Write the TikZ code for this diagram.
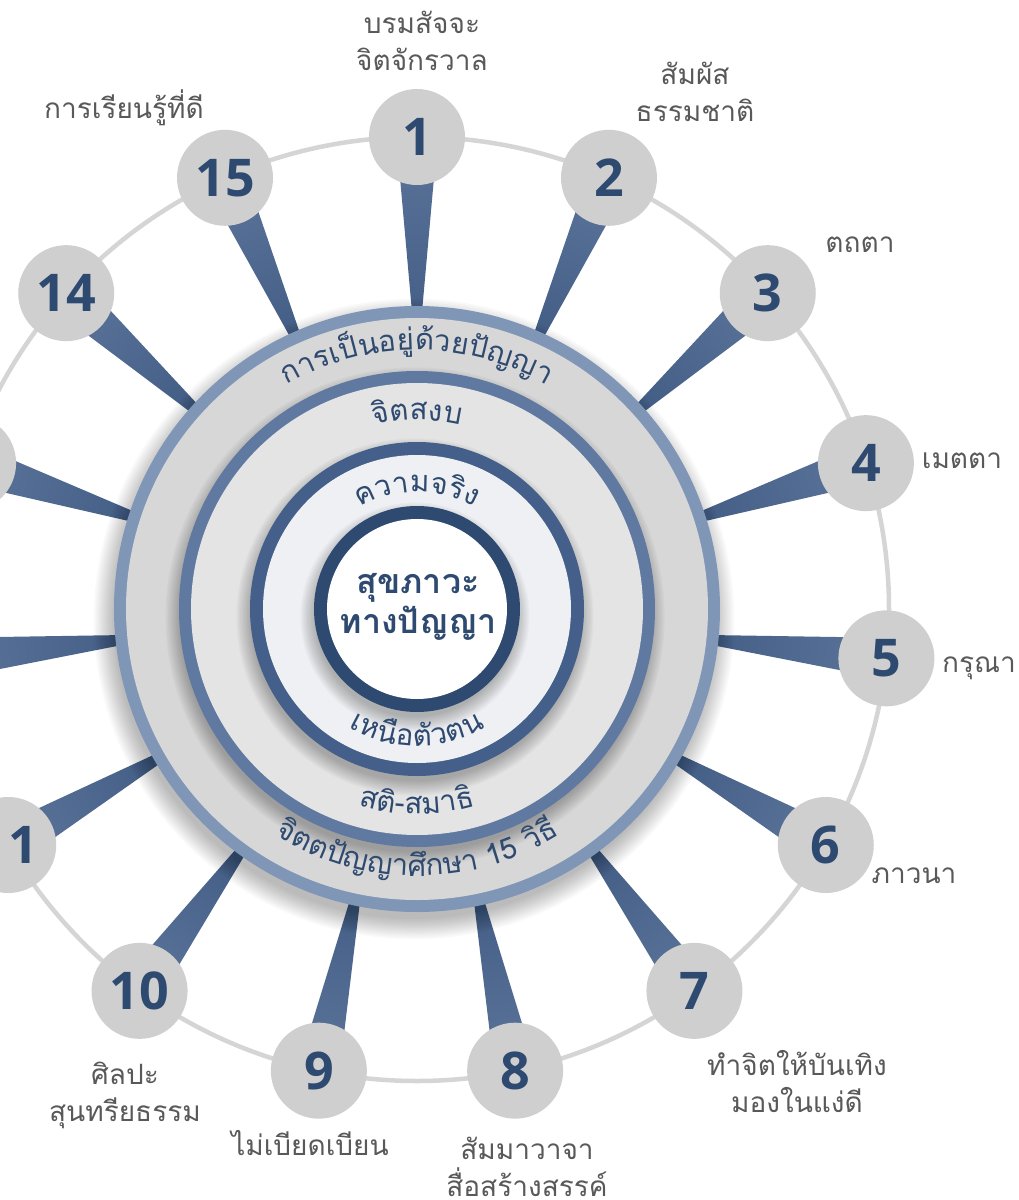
\documentclass[tikz,border=0pt]{standalone}
\usepackage{fontspec}
\setmainfont{Open Sans}
\newfontfamily\thaifont[Script=Thai]{Loma}
\newfontfamily\numfont{Open Sans}
\usetikzlibrary{calc}

\definecolor{ringA}{HTML}{7F96B6}
\definecolor{ringB}{HTML}{6079A0}
\definecolor{ringC}{HTML}{44608A}
\definecolor{ringD}{HTML}{2E4A70}
\definecolor{fillA}{HTML}{D7D7D7}
\definecolor{fillB}{HTML}{E4E4E4}
\definecolor{fillC}{HTML}{EEF0F3}
\definecolor{numgray}{HTML}{CFCFCF}
\definecolor{linkgray}{HTML}{D5D5D5}
\definecolor{navy}{HTML}{2E4A70}
\definecolor{labelgray}{HTML}{595959}
\definecolor{spokeL}{HTML}{5B7399}
\definecolor{spokeD}{HTML}{425D85}

\newdimen\cwid
\newsavebox\cbox
\newcommand\arcfont{\thaifont\fontsize{29.5}{30}\selectfont}

% measure clusters (run inside a node, where fonts are active)
\newcommand\measureclusters[2]{%
  \xdef\acctot{0}%
  \foreach \cl [count=\j] in {#1}{\sbox\cbox{\arcfont\cl}\cwid=\wd\cbox
    \expandafter\xdef\csname cw#2\j\endcsname{\the\cwid}%
    \pgfmathsetmacro\tmp{\acctot+\cwid}\xdef\acctot{\tmp}}}

% text along the top of a circle
\newcommand\arcTop[3]{%
  \node[inner sep=0pt,name=m#3] at (0,0) {\measureclusters{#2}{#3}};
  \xdef\acccum{0}%
  \foreach \cl [count=\j] in {#2}{%
    \edef\w{\csname cw#3\j\endcsname}%
    \pgfmathsetmacro\ang{90+(\acctot/2-\acccum-\w/2)/#1*57.2958}%
    \node[arctext,rotate=\ang-90,anchor=base,name=#3-\j] at (\ang:#1pt) {\arcfont\cl};
    \pgfmathsetmacro\tmp{\acccum+\w}\xdef\acccum{\tmp}}%
}
% text along the bottom of a circle
\newcommand\arcBot[3]{%
  \node[inner sep=0pt,name=m#3] at (0,0) {\measureclusters{#2}{#3}};
  \xdef\acccum{0}%
  \foreach \cl [count=\j] in {#2}{%
    \edef\w{\csname cw#3\j\endcsname}%
    \pgfmathsetmacro\ang{270-(\acctot/2-\acccum-\w/2)/#1*57.2958}%
    \node[arctext,rotate=\ang-270,anchor=base,name=#3-\j] at (\ang:#1pt) {\arcfont\cl};
    \pgfmathsetmacro\tmp{\acccum+\w}\xdef\acccum{\tmp}}%
}
\newcommand\softshadow[5]{% x y radius spread opacity
  \foreach \k in {1,...,12}{\pgfmathsetmacro\rr{#3+#4*(1-\k/12)}\fill[black,opacity=#5] (#1,#2) circle (\rr pt);}}

\begin{document}
\begin{tikzpicture}[x=1pt,y=1pt,
  arctext/.style={text=navy,inner sep=0pt},
  numcirc/.style={circle,fill=numgray,minimum size=96pt,inner sep=0pt,text=navy,
     font=\numfont\bfseries\fontsize{52}{52}\selectfont},
  lbl/.style={text=labelgray,align=center,inner sep=0pt,
     font=\thaifont\fontsize{28}{37}\selectfont},
  centertext/.style={text=navy,align=center,inner sep=0pt,
     font=\thaifont\bfseries\fontsize{34}{40}\selectfont}]
\useasboundingbox (-417,-591) rectangle (601,609);
\clip (-417,-591) rectangle (601,609);
\fill[white] (-417,-591) rectangle (601,609);

% ring linking the fifteen circles
\draw[linkgray,line width=4.5pt] (0,0) circle (472pt);

% tapered spokes
\foreach \i in {1,...,15}{
  \pgfmathsetmacro\a{90-(\i-1)*24}
  \pgfmathsetmacro\sh{\a-90}
  \shade[top color=spokeL,bottom color=spokeD,shading angle=\sh]
    ({\a-0.55}:270pt) -- ({\a-2.5}:472pt) -- ({\a+2.5}:472pt) -- ({\a+0.55}:270pt) -- cycle;
}

% outer disc
\softshadow{-3}{-10}{300}{22}{0.022}
\fill[ringA] (0,0) circle (303pt);
\fill[fillA] (0,0) circle (291pt);
% second disc
\softshadow{-2}{-8}{235}{16}{0.025}
\fill[ringB] (0,0) circle (238pt);
\fill[fillB] (0,0) circle (226pt);
% third disc
\softshadow{-2}{-8}{164}{16}{0.025}
\fill[ringC] (0,0) circle (167pt);
\fill[fillC] (0,0) circle (154pt);
% centre disc
\softshadow{-2}{-8}{100}{16}{0.025}
\fill[ringD] (0,0) circle (103pt);
\fill[white] (0,0) circle (90pt);

% numbered circles
\foreach \i in {1,...,15}{
  \pgfmathsetmacro\a{90-(\i-1)*24}
  \node[numcirc] (n\i) at (\a:472pt) {\i};
}

% labels
\node[lbl] (l1) at (5,568) {บรมสัจจะ\\จิตจักรวาล};
\node[lbl] (l2) at (278,517) {สัมผัส\\ธรรมชาติ};
\node[lbl] (l3) at (443,364) {ตถตา};
\node[lbl] (l4) at (545,148) {เมตตา};
\node[lbl] (l5) at (562,-59) {กรุณา};
\node[lbl] (l6) at (497,-267) {ภาวนา};
\node[lbl] (l7) at (380,-472) {ทำจิตให้บันเทิง\\มองในแง่ดี};
\node[lbl] (l8) at (110,-558) {สัมมาวาจา\\สื่อสร้างสรรค์};
\node[lbl] (l9) at (-107,-534) {ไม่เบียดเบียน};
\node[lbl] (l10) at (-292,-486) {ศิลปะ\\สุนทรียธรรม};
\node[lbl] (l15) at (-293,501) {การเรียนรู้ที่ดี};

% curved ring texts
\arcTop{259}{ก,า,ร,เ,ป็,น,อ,ยู่,ด้,ว,ย,ปั,ญ,ญ,า}{ta}
\arcTop{189}{จิ,ต,ส,ง,บ}{tb}
\arcTop{117}{ค,ว,า,ม,จ,ริ,ง}{tc}
\arcBot{137}{เ,ห,นื,อ,ตั,ว,ต,น}{bc}
\arcBot{205}{ส,ติ,-,ส,ม,า,ธิ}{bb}
\arcBot{267}{จิ,ต,ต,ปั,ญ,ญ,า,ศึ,ก,ษ,า,~,1,5,~,วิ,ธี}{ba}

% centre text
\node[centertext] (core) at (1,2) {สุขภาวะ\\ทางปัญญา};
\end{tikzpicture}
\end{document}
